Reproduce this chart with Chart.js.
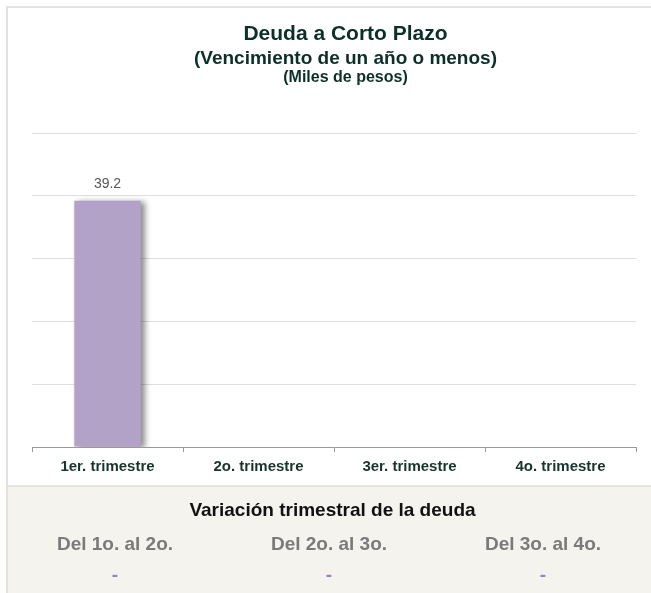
<!DOCTYPE html>
<html lang="es">
<head>
    <meta charset="UTF-8">
    <title>Deuda a Corto Plazo</title>
    <script src="https://cdn.jsdelivr.net/npm/chart.js"></script>
    <style>
        body { margin: 0; background: #fff; font-family: "Liberation Sans", Arial, sans-serif; overflow: hidden; }
        #frame {
            position: absolute; left: 6px; top: 6px; width: 660px; height: 600px;
            border-top: 2px solid #e2e2e2; border-left: 2px solid #e2e2e2;
        }
        .titles { position: absolute; left: 20px; top: 0; width: 651px; text-align: center; color: #0c2f27; font-weight: bold; }
        .titles div { position: absolute; width: 100%; line-height: 1.15; }
        #t1 { top: 21px; font-size: 21px; }
        #t2 { top: 47px; font-size: 19px; }
        #t3 { top: 68px; font-size: 16px; }
        #chartBox { position: absolute; left: 0; top: 0; width: 651px; height: 486px; }
        #panel {
            position: absolute; left: 8px; top: 485px; width: 643px; height: 108px;
            background: #f4f3ee; border-top: 2px solid #e6e6e3;
        }
        #panel h3 { margin: 0; position: absolute; top: 12px; left: 3px; width: 100%; text-align: center; font-size: 19px; line-height: 1.15; color: #111; }
        .col { position: absolute; top: 46px; width: 214px; text-align: center; line-height: 1.15; }
        .col .lbl { font-size: 19px; font-weight: bold; color: #7a7a7a; }
        .col .val { margin-top: 9px; font-size: 19px; font-weight: bold; color: #9a80c0; }
    </style>
</head>
<body>

<div id="frame"></div>

<div id="chartBox">
    <canvas id="debtChart"></canvas>
</div>

<div class="titles">
    <div id="t1">Deuda a Corto Plazo</div>
    <div id="t2">(Vencimiento de un año o menos)</div>
    <div id="t3">(Miles de pesos)</div>
</div>

<div id="panel">
    <h3>Variación trimestral de la deuda</h3>
</div>

<script>
    // chart data
    const quarters = ['1er. trimestre', '2o. trimestre', '3er. trimestre', '4o. trimestre'];
    const debtValues = [39.2, null, null, null];
    const yTicks = [0, 10, 20, 30, 40, 50];

    // quarter-to-quarter variation table
    const variationLabels = ['Del 1o. al 2o.', 'Del 2o. al 3o.', 'Del 3o. al 4o.'];
    const variationValues = ['-', '-', '-'];

    const panel = document.getElementById('panel');
    variationLabels.forEach((lbl, i) => {
        const col = document.createElement('div');
        col.className = 'col';
        col.style.left = (i * 214) + 'px';
        col.innerHTML = '<div class="lbl">' + lbl + '</div><div class="val">' + variationValues[i] + '</div>';
        panel.appendChild(col);
    });

    // shadow behind the bars + value on top
    const barExtras = {
        id: 'barExtras',
        beforeDatasetDraw(chart) {
            const ctx = chart.ctx;
            ctx.save();
            ctx.shadowColor = 'rgba(0,0,0,0.45)';
            ctx.shadowBlur = 6;
            ctx.shadowOffsetX = 4;
            ctx.shadowOffsetY = 1;
        },
        afterDatasetDraw(chart) {
            chart.ctx.restore();
        },
        afterDatasetsDraw(chart) {
            const ctx = chart.ctx;
            const meta = chart.getDatasetMeta(0);
            ctx.save();
            ctx.font = '14px "Liberation Sans", Arial, sans-serif';
            ctx.fillStyle = '#555';
            ctx.textAlign = 'center';
            ctx.textBaseline = 'middle';
            meta.data.forEach((bar, i) => {
                if (debtValues[i] === null) return;
                ctx.fillText(debtValues[i].toFixed(1), bar.x, bar.y - 17);
            });
            ctx.restore();
        }
    };

    const ctx = document.getElementById('debtChart').getContext('2d');
    new Chart(ctx, {
        type: 'bar',
        data: {
            labels: quarters,
            datasets: [{
                data: debtValues,
                backgroundColor: '#b3a2c8',
                categoryPercentage: 0.44,
                barPercentage: 1.0
            }]
        },
        options: {
            responsive: true,
            maintainAspectRatio: false,
            animation: false,
            layout: { padding: { left: 32, right: 15, top: 133, bottom: 4 } },
            plugins: { legend: { display: false }, tooltip: { enabled: false } },
            scales: {
                x: {
                    grid: { display: true, drawOnChartArea: false, drawTicks: true, tickLength: 5, color: '#999' },
                    border: { display: true, color: '#999', width: 1 },
                    ticks: {
                        color: '#16352c',
                        font: { family: '"Liberation Sans", Arial, sans-serif', size: 15, weight: 'bold' },
                        padding: 6
                    }
                },
                y: {
                    min: yTicks[0],
                    max: yTicks[yTicks.length - 1],
                    afterBuildTicks(axis) { axis.ticks = yTicks.map(v => ({ value: v })); },
                    ticks: { display: false },
                    border: { display: false },
                    grid: { color: '#dedede', drawTicks: false }
                }
            }
        },
        plugins: [barExtras]
    });
</script>

</body>
</html>
